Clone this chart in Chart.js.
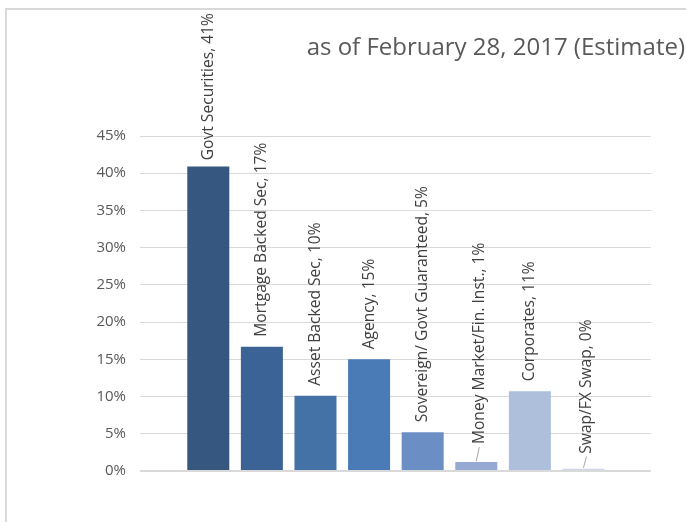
<!DOCTYPE html>
<html>
<head>
<meta charset="utf-8">
<script src="https://cdn.jsdelivr.net/npm/chart.js@4.4.1/dist/chart.umd.min.js"></script>
<style>
  html, body { margin: 0; padding: 0; background: #fff; }
  #frame {
    position: absolute; left: 5px; top: 8px; width: 700px; height: 540px;
    border-top: 2px solid #d9d9d9; border-left: 2px solid #d9d9d9;
  }
  #chart { position: absolute; left: 0; top: 0; }
</style>
</head>
<body>
<div id="frame"></div>
<canvas id="chart" width="686" height="522"></canvas>
<script>
// portfolio mix by sector, in percent
const categories = [
    'Govt Securities',
    'Mortgage Backed Sec',
    'Asset Backed Sec',
    'Agency',
    'Sovereign/ Govt Guaranteed',
    'Money Market/Fin. Inst.',
    'Corporates',
    'Swap/FX Swap'
];
const shares = [40.9, 16.7, 10.1, 15.0, 5.2, 1.2, 10.7, 0.3];
const yTicks = [0, 5, 10, 15, 20, 25, 30, 35, 40, 45];
const titleText = 'as of February 28, 2017 (Estimate)';

const barColors = ['#365880', '#3c6395', '#4472a7', '#4a7bb7', '#6b8fc4', '#95aad3', '#adbfdb', '#cdd6ea'];

// small bars get their label pushed up with a leader line: [x shift, lift]
const labelNudge = { 5: [3, 8], 7: [3, 5] };
const labelGap = 10;
const labelTop = 13;

const titlePlugin = {
    id: 'cornerTitle',
    afterDraw(chart) {
        const ctx = chart.ctx;
        ctx.save();
        ctx.font = '24px "Open Sans"';
        ctx.fillStyle = '#595959';
        ctx.textAlign = 'right';
        ctx.textBaseline = 'alphabetic';
        ctx.fillText(titleText, 685, 55);
        ctx.restore();
    }
};

const barLabels = {
    id: 'barLabels',
    afterDatasetsDraw(chart) {
        const ctx = chart.ctx;
        const meta = chart.getDatasetMeta(0);
        ctx.save();
        ctx.font = '15.6px "Open Sans"';
        ctx.fillStyle = '#404040';
        meta.data.forEach((bar, i) => {
            const text = `${categories[i]}, ${Math.round(shares[i])}%`;
            const [dx, lift] = labelNudge[i] || [0, 0];
            const w = ctx.measureText(text).width;
            const x = bar.x + dx;
            const start = Math.max(bar.y - labelGap - lift, labelTop + w);

            ctx.save();
            ctx.translate(x, start);
            ctx.rotate(-Math.PI / 2);
            ctx.textAlign = 'left';
            ctx.textBaseline = 'middle';
            ctx.fillText(text, 0, 0);
            ctx.restore();

            if (lift) {
                ctx.beginPath();
                ctx.strokeStyle = '#a6a6a6';
                ctx.lineWidth = 1;
                ctx.moveTo(x, start + 3);
                ctx.lineTo(bar.x, bar.y - 1);
                ctx.stroke();
            }
        });
        ctx.restore();
    }
};

new Chart(document.getElementById('chart'), {
    type: 'bar',
    data: {
        datasets: [{
            data: categories.map((c, i) => ({ x: i, y: shares[i] })),
            backgroundColor: barColors,
            borderWidth: 0,
            barPercentage: 0.784,
            categoryPercentage: 1
        }]
    },
    options: {
        responsive: false,
        animation: false,
        layout: { padding: { left: 0, right: 35, top: 136, bottom: 51 } },
        plugins: {
            legend: { display: false },
            tooltip: { enabled: false }
        },
        scales: {
            x: {
                type: 'linear',
                display: false,
                offset: false,
                min: -1.274,
                max: 8.26
            },
            y: {
                min: 0,
                max: 45,
                border: { display: false },
                grid: {
                    color: '#d9d9d9',
                    lineWidth: c => (c.index === 0 ? 2 : 1),
                    drawTicks: false
                },
                ticks: {
                    padding: 14,
                    color: '#595959',
                    font: { family: 'Open Sans', size: 15 },
                    callback: v => v + '%'
                },
                afterBuildTicks: s => { s.ticks = yTicks.map(v => ({ value: v })); },
                afterFit: s => { s.width = 140; }
            }
        }
    },
    plugins: [titlePlugin, barLabels]
});
</script>
</body>
</html>
